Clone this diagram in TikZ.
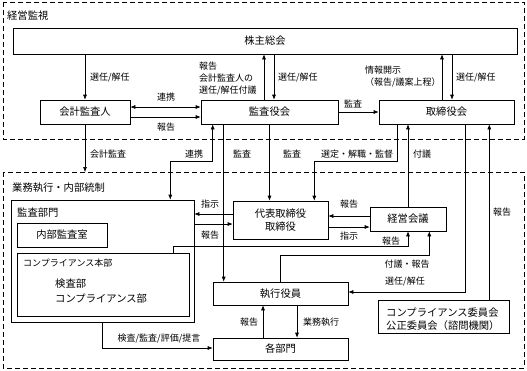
\documentclass[tikz,border=0pt]{standalone}
\usepackage{fontspec}
\setmainfont{Noto Sans CJK JP}
\usetikzlibrary{arrows.meta,positioning,calc}

\begin{document}
\begin{tikzpicture}[x=1pt, y=-1pt,
    font=\fontsize{9}{12}\selectfont,
    box/.style={draw, line width=.6pt, inner sep=0pt, align=center,
      font=\fontsize{10.3}{12.5}\selectfont},
    region/.style={draw, line width=.6pt, dash pattern=on 5pt off 3pt},
    arrow/.style={-{Latex[length=5pt,width=4pt]}, line width=.6pt},
    twoway/.style={{Latex[length=5pt,width=4pt]}-{Latex[length=5pt,width=4pt]}, line width=.6pt},
    lbl/.style={inner sep=0pt, align=left},
    head/.style={inner sep=0pt, anchor=west, font=\fontsize{10.3}{12.5}\selectfont}
  ]
    \useasboundingbox (0,0) rectangle (527,370);

    % regions
    \draw[region] (3,2) rectangle (524,139);
    \draw[region] (3,172) rectangle (524,368);
    \node[head] (t-top) at (7,16) {経営監視};
    \node[head] (t-bot) at (12,188) {業務執行・内部統制};

    % upper boxes
    \node[box, minimum width=504, minimum height=26] (kabu) at (265,41) {株主総会};
    \node[box, minimum width=90, minimum height=24] (kaikei) at (85,112) {会計監査人};
    \node[box, minimum width=137, minimum height=24] (kansayaku) at (269.5,112) {監査役会};
    \node[box, minimum width=135, minimum height=24] (torishimari) at (446.5,112) {取締役会};

    % lower boxes
    \node[box, minimum width=183, minimum height=122] (kansabu) at (102.5,261) {};
    \node[head] (t-kansabu) at (17,213) {監査部門};
    \node[box, minimum width=90, minimum height=24] (naibu) at (62,235) {内部監査室};
    \node[box, minimum width=172, minimum height=63] (comph) at (103,284.5) {};
    \node[lbl, anchor=west] (t-comph) at (23,263) {コンプライアンス本部};
    \node[head, align=left, font=\fontsize{10.3}{15}\selectfont] (t-kensa) at (55,291)
      {検査部\\コンプライアンス部};
    \node[box, minimum width=95, minimum height=38] (daihyo) at (280.5,220) {代表取締役\\取締役};
    \node[box, minimum width=76, minimum height=24] (keiei) at (408,219) {経営会議};
    \node[box, minimum width=135, minimum height=23] (shikko) at (280.5,293.5) {執行役員};
    \node[box, minimum width=135, minimum height=22] (kakubu) at (280.5,349) {各部門};
    \node[box, minimum width=131, minimum height=33] (iinkai) at (443.5,316.5) {};
    \node[head, align=left] (t-iinkai) at (386,319)
      {コンプライアンス委員会\\公正委員会（諮問機関）};

    % shareholders' meeting
    \draw[arrow] (kaikei.north |- kabu.south) -- (kaikei.north);
    \draw[arrow] ([xshift=-5.5pt]kansayaku.north) -- ([xshift=-5.5pt]kansayaku.north |- kabu.south);
    \draw[arrow] ([xshift=4.5pt]kansayaku.north |- kabu.south) -- ([xshift=4.5pt]kansayaku.north);
    \draw[arrow] ([xshift=-4.5pt]torishimari.north) -- ([xshift=-4.5pt]torishimari.north |- kabu.south);
    \draw[arrow] ([xshift=5.5pt]torishimari.north |- kabu.south) -- ([xshift=5.5pt]torishimari.north);
    \node[lbl, anchor=west] (l-sen1) at (90,78) {選任/解任};
    \node[lbl, anchor=west] (l-hokoku1) at (199,79) {報告\\会計監査人の\\選任/解任付議};
    \node[lbl, anchor=west] (l-sen2) at (278,78) {選任/解任};
    \node[lbl, anchor=west] (l-joho) at (365,77) {情報開示\\（報告/議案上程）};
    \node[lbl, anchor=west] (l-sen3) at (456,78) {選任/解任};

    % upper row
    \draw[twoway] ([yshift=5pt]kaikei.east) -- ([yshift=5pt]kaikei.east -| kansayaku.west);
    \draw[arrow] ([yshift=-5pt]kaikei.east) -- ([yshift=-5pt]kaikei.east -| kansayaku.west);
    \draw[arrow] (kansayaku) -- (torishimari);
    \node[lbl] (l-renkei1) at (166,97) {連携};
    \node[lbl] (l-hokoku2) at (166,127) {報告};
    \node[lbl] (l-kansa1) at (353,104) {監査};

    % between regions
    \coordinate (kaikei-end) at (kaikei.south |- 0,172);
    \draw[arrow] (kaikei.south) -- (kaikei-end);
    \draw[twoway] ([xshift=12pt]kansayaku.south west) -- ++(0,37) -| ([xshift=-24pt]kansabu.north east);
    \draw[arrow] ([xshift=23pt]kansayaku.south west) -- ([xshift=23pt]kansayaku.south west |- shikko.north);
    \draw[arrow] (kansayaku.south) -- (kansayaku.south |- daihyo.north);
    \draw[arrow] ([xshift=19pt]torishimari.south west) -- ++(0,37) -| ([xshift=-14pt]daihyo.north east);
    \draw[arrow] (keiei.north) -- (keiei.north |- torishimari.south);
    \draw[arrow] ([xshift=-49pt]torishimari.south east) |- ([yshift=1.5pt]shikko.east);
    \draw[arrow] ([xshift=-20pt]iinkai.north east) -- ([xshift=-20pt]iinkai.north east |- torishimari.south);
    \node[lbl, anchor=west] (l-kaikei) at (90,154) {会計監査};
    \node[lbl] (l-renkei2) at (194,154) {連携};
    \node[lbl] (l-kansa2) at (242,154) {監査};
    \node[lbl] (l-kansa3) at (292,154) {監査};
    \node[lbl] (l-sentei) at (357,154) {選定・解職・監督};
    \node[lbl, anchor=west] (l-fugi) at (413,154) {付議};
    \node[lbl] (l-hokoku3) at (502,212) {報告};

    % lower region
    \draw[arrow] ([yshift=6pt]daihyo.west) -- ([yshift=6pt]daihyo.west -| kansabu.east);
    \draw[arrow] ([yshift=-4pt]daihyo.west -| kansabu.east) -- ([yshift=-4pt]daihyo.west);
    \draw[arrow] ([yshift=3pt]keiei.west) -- ([yshift=3pt]keiei.west -| daihyo.east);
    \draw[arrow] ([yshift=-8pt]keiei.west -| daihyo.east) -- ([yshift=-8pt]keiei.west);
    \draw[arrow] ([xshift=-16pt]comph.north east) -- ++(0,-6) -| (keiei.south);
    \draw[arrow] (shikko.north) -- ++(0,-26) -| ([xshift=-17pt]keiei.south east);
    \draw[arrow] ([xshift=16.5pt]shikko.south) -- ([xshift=16.5pt]shikko.south |- kakubu.north);
    \draw[arrow] ([xshift=-17.5pt]kakubu.north) -- ([xshift=-17.5pt]kakubu.north |- shikko.south);
    \draw[arrow] (kansabu.south) |- ([yshift=1pt]kakubu.west);
    \node[lbl] (l-shiji1) at (210,204) {指示};
    \node[lbl] (l-hokoku4) at (210,235) {報告};
    \node[lbl] (l-hokoku5) at (349,204) {報告};
    \node[lbl] (l-shiji2) at (349,236) {指示};
    \node[lbl] (l-hokoku6) at (391,241) {報告};
    \node[lbl] (l-fugihokoku) at (407,264) {付議・報告};
    \node[lbl] (l-sen4) at (405,282) {選任/解任};
    \node[lbl] (l-hokoku7) at (249,322) {報告};
    \node[lbl] (l-gyomu) at (321,322) {業務執行};
    \node[lbl] (l-kensa) at (159,339) {検査/監査/評価/提言};
  \end{tikzpicture}
\end{document}
